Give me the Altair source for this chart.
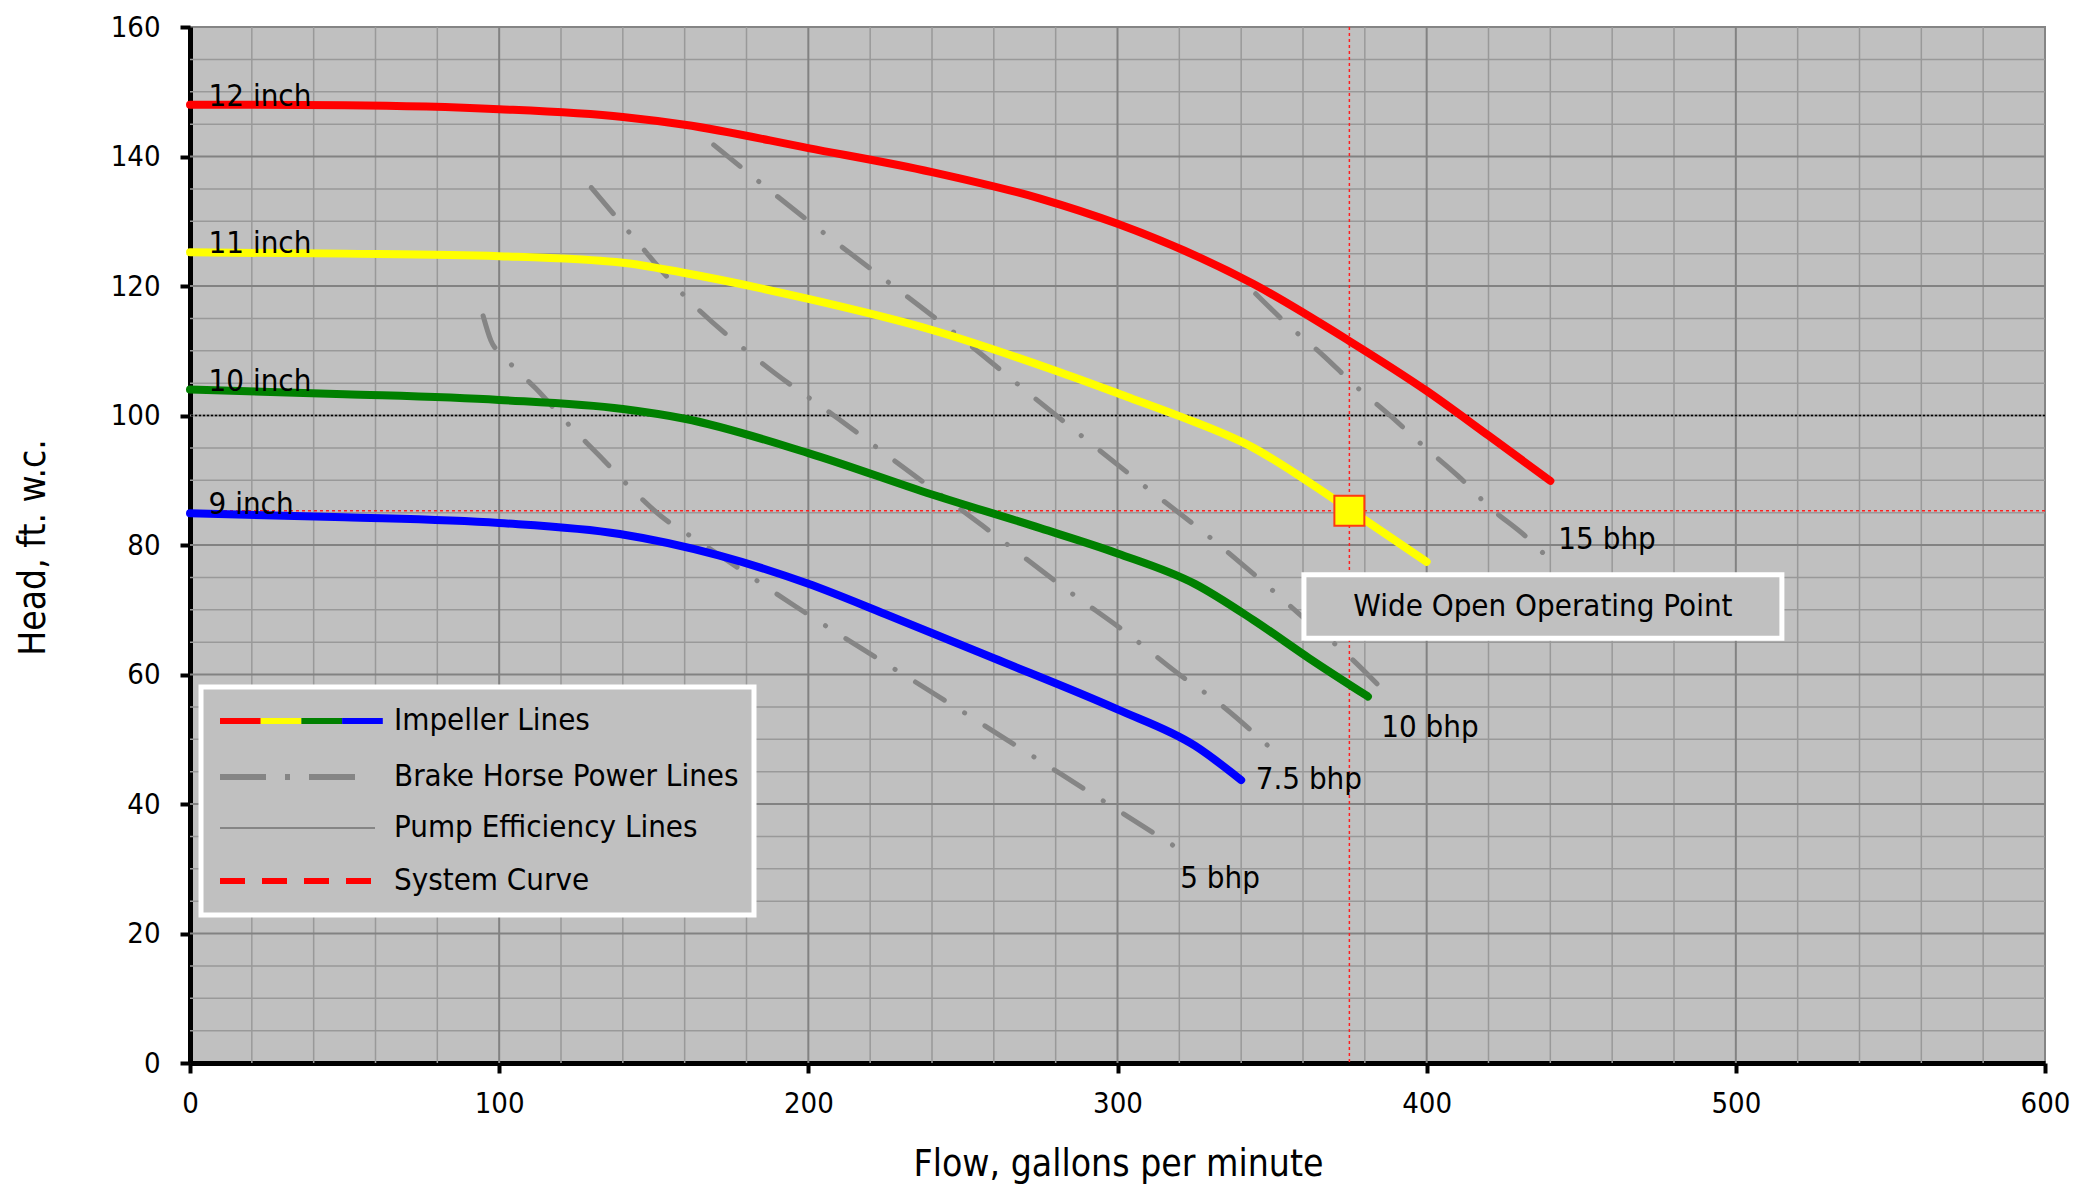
import altair as alt
import pandas as pd

# ---------------- data ----------------
imp_names = ["12 inch", "11 inch", "10 inch", "9 inch"]
imp_colors = ["#ff0000", "#ffff00", "#008000", "#0000ff"]

gpm_12 = [0, 50, 100, 140, 160, 200, 240, 275, 300, 344, 375, 400, 420, 440]
ft_12 = [148.0, 147.9, 147.3, 146.1, 144.9, 141.3, 137.6, 133.5, 129.6, 120.3, 111.5, 103.8, 96.9, 89.9]
gpm_11 = [0, 50, 100, 140, 160, 200, 240, 280, 303, 320, 344, 360, 375, 400]
ft_11 = [125.2, 125.0, 124.6, 123.6, 122.0, 118.0, 113.2, 106.9, 102.9, 99.9, 95.0, 90.3, 85.5, 77.4]
gpm_10 = [0, 50, 100, 140, 160, 200, 240, 275, 300, 325, 344, 362, 381]
ft_10 = [104.0, 103.3, 102.4, 101.0, 99.5, 94.2, 87.8, 82.6, 78.7, 74.0, 68.4, 62.5, 56.6]
gpm_9 = [0, 50, 100, 139, 171, 200, 225, 260, 300, 325, 340]
ft_9 = [84.9, 84.3, 83.4, 81.7, 78.4, 74.0, 69.3, 62.5, 54.6, 49.0, 43.7]

imp_label_gpm = [6, 6, 6, 6]
imp_label_ft = [148.0, 125.2, 104.0, 85.0]

bhp_names = ["5 bhp", "7.5 bhp", "10 bhp", "15 bhp"]
gpm_b5 = [94.8, 97.3, 101.1, 106.6, 111.8, 121.9, 132.2, 141.9, 152.5, 165.1, 195.3, 244.8, 294.3, 318.7]
ft_b5 = [115.4, 111.6, 109.3, 106.6, 104.2, 98.9, 93.9, 89.1, 84.4, 80.4, 70.7, 55.8, 40.8, 33.4]
gpm_b75 = [129.8, 143.8, 158.3, 185.5, 209.7, 233.0, 256.3, 285.3, 303.0, 320.3, 332.2, 348.9]
ft_b75 = [135.2, 127.3, 119.3, 107.9, 99.5, 91.2, 83.0, 72.5, 66.4, 59.9, 55.8, 48.9]
gpm_b10 = [169.4, 186.4, 203.9, 227.2, 250.4, 272.7, 308.2, 330.1, 346.8, 360.3, 374.9, 384.9]
ft_b10 = [141.8, 135.2, 128.6, 120.1, 111.6, 102.9, 89.3, 81.1, 74.4, 68.7, 62.8, 58.1]
gpm_b15 = [344.7, 355.1, 366.5, 376.9, 388.4, 398.9, 410.3, 420.7, 432.1, 440.5]
ft_b15 = [118.8, 114.0, 109.3, 104.6, 99.9, 95.3, 90.6, 85.7, 81.3, 77.4]

bhp_label_gpm = [320.3, 344.7, 385.3, 442.6]
bhp_label_ft = [28.4, 43.7, 51.8, 80.8]

op_gpm = [375.0]
op_ft = [85.3]
ref_head = [100.0]

box_gpm = [360.3, 514.9]
box_ft = [65.6, 75.4]
box_text = "Wide Open Operating Point"

x_ticks = [0, 100, 200, 300, 400, 500, 600]
y_ticks = [0, 20, 40, 60, 80, 100, 120, 140, 160]
x_minor = [v for v in range(20, 600, 20) if v % 100]
x_major = [100, 200, 300, 400, 500]
y_minor = [v for v in range(5, 160, 5) if v % 20]
y_major = [20, 40, 60, 80, 100, 120, 140]

legend_labels = ["Impeller Lines", "Brake Horse Power Lines", "Pump Efficiency Lines", "System Curve"]

# ---------------- styling ----------------
FONT = "DejaVu Sans Condensed, Liberation Sans, sans-serif"
W, H = 1855, 1036
GRAY = "#858585"

XS = alt.Scale(domain=[0, 600], nice=False, zero=False)
YS = alt.Scale(domain=[0, 160], nice=False, zero=False)

AXX = alt.Axis(values=x_ticks, title="Flow, gallons per minute", grid=False,
               domainColor="black", domainWidth=5, tickColor="black", tickWidth=4,
               tickSize=10, labelFontSize=29, labelPadding=16, labelFont=FONT,
               labelColor="black", titleFont=FONT, titleFontSize=37,
               titleFontWeight="normal", titleColor="black", titleX=928, titleY=101,
               titleBaseline="middle", labelFlush=False)
AXY = alt.Axis(values=y_ticks, title="Head, ft. w.c.", grid=False,
               domainColor="black", domainWidth=5, tickColor="black", tickWidth=4,
               tickSize=10, labelFontSize=29, labelPadding=20, labelFont=FONT,
               labelColor="black", titleFont=FONT, titleFontSize=37,
               titleFontWeight="normal", titleColor="black", titleX=-157, titleY=520,
               titleBaseline="middle", labelFlush=False)


def X(field):
    return alt.X(field, type="quantitative", scale=XS, axis=AXX)


def Y(field):
    return alt.Y(field, type="quantitative", scale=YS, axis=AXY)


def curves(names, gpms, fts):
    rows = []
    for n, g, f in zip(names, gpms, fts):
        for i, (a, b) in enumerate(zip(g, f)):
            rows.append({"series": n, "gpm": a, "ft": b, "i": i})
    return pd.DataFrame(rows)


imp_df = curves(imp_names, [gpm_12, gpm_11, gpm_10, gpm_9], [ft_12, ft_11, ft_10, ft_9])
bhp_df = curves(bhp_names, [gpm_b5, gpm_b75, gpm_b10, gpm_b15], [ft_b5, ft_b75, ft_b10, ft_b15])

one = pd.DataFrame({"k": [0]})

layers = []

# grid
layers.append(alt.Chart(pd.DataFrame({"v": x_minor})).mark_rule(color="#999999", strokeWidth=1.5).encode(x=X("v")))
layers.append(alt.Chart(pd.DataFrame({"v": y_minor})).mark_rule(color="#999999", strokeWidth=1.5).encode(y=Y("v")))
layers.append(alt.Chart(pd.DataFrame({"v": x_major})).mark_rule(color="#828282", strokeWidth=2).encode(x=X("v")))
layers.append(alt.Chart(pd.DataFrame({"v": y_major})).mark_rule(color="#828282", strokeWidth=2).encode(y=Y("v")))

# reference dotted line at 100 ft
layers.append(alt.Chart(pd.DataFrame({"v": ref_head})).mark_rule(color="black", strokeWidth=1.5, strokeDash=[2, 2]).encode(y=Y("v")))
# system crosshair
layers.append(alt.Chart(pd.DataFrame({"v": op_gpm})).mark_rule(color="#ff2020", strokeWidth=1.5, strokeDash=[3, 3]).encode(x=X("v")))
layers.append(alt.Chart(pd.DataFrame({"v": op_ft})).mark_rule(color="#ff2020", strokeWidth=1.5, strokeDash=[3, 3]).encode(y=Y("v")))

# brake horse power lines
layers.append(
    alt.Chart(bhp_df).mark_line(color=GRAY, strokeWidth=5, strokeDash=[34, 24, 0.1, 24],
                                strokeCap="round", interpolate="monotone")
    .encode(x=X("gpm"), y=Y("ft"), detail="series:N", order="i:Q")
)

# impeller lines
layers.append(
    alt.Chart(imp_df).mark_line(strokeWidth=8, strokeCap="round", interpolate="monotone")
    .encode(x=X("gpm"), y=Y("ft"), order="i:Q",
            color=alt.Color("series:N", scale=alt.Scale(domain=imp_names, range=imp_colors), legend=None))
)

# impeller labels
layers.append(
    alt.Chart(pd.DataFrame({"gpm": imp_label_gpm, "ft": imp_label_ft, "t": imp_names}))
    .mark_text(align="left", baseline="alphabetic", font=FONT, fontSize=31, color="black", dy=1)
    .encode(x=X("gpm"), y=Y("ft"), text="t:N")
)

# bhp labels
layers.append(
    alt.Chart(pd.DataFrame({"gpm": bhp_label_gpm, "ft": bhp_label_ft, "t": bhp_names}))
    .mark_text(align="left", baseline="middle", font=FONT, fontSize=31, color="black")
    .encode(x=X("gpm"), y=Y("ft"), text="t:N")
)

# operating point
layers.append(
    alt.Chart(pd.DataFrame({"gpm": op_gpm, "ft": op_ft}))
    .mark_square(size=900, fill="#ffff00", stroke="#ff3a10", strokeWidth=2, opacity=1)
    .encode(x=X("gpm"), y=Y("ft"))
)

# annotation box
layers.append(
    alt.Chart(pd.DataFrame({"x0": [box_gpm[0]], "x1": [box_gpm[1]], "y0": [box_ft[0]], "y1": [box_ft[1]]}))
    .mark_rect(fill="#c0c0c0", stroke="white", strokeWidth=5)
    .encode(x=X("x0"), x2="x1", y=Y("y0"), y2="y1")
)
layers.append(
    alt.Chart(pd.DataFrame({"gpm": [sum(box_gpm) / 2], "ft": [sum(box_ft) / 2], "t": [box_text]}))
    .mark_text(align="center", baseline="middle", font=FONT, fontSize=31, color="black")
    .encode(x=X("gpm"), y=Y("ft"), text="t:N")
)

# ---------------- legend (drawn manually) ----------------
layers.append(
    alt.Chart(one).mark_rect(fill="#c0c0c0", stroke="white", strokeWidth=5)
    .encode(x=alt.value(11), x2=alt.value(564), y=alt.value(660), y2=alt.value(888))
)
row_y = [694, 750, 801, 854]
sym_x0, seg = 30, 40.7
for k, c in enumerate(imp_colors):
    layers.append(
        alt.Chart(one).mark_rule(color=c, strokeWidth=6)
        .encode(x=alt.value(sym_x0 + k * seg), x2=alt.value(sym_x0 + (k + 1) * seg), y=alt.value(row_y[0]))
    )
layers.append(
    alt.Chart(one).mark_rule(color=GRAY, strokeWidth=6, strokeDash=[46, 19, 5, 19])
    .encode(x=alt.value(sym_x0), x2=alt.value(170), y=alt.value(row_y[1]))
)
layers.append(
    alt.Chart(one).mark_rule(color=GRAY, strokeWidth=2)
    .encode(x=alt.value(sym_x0), x2=alt.value(185), y=alt.value(row_y[2]))
)
layers.append(
    alt.Chart(one).mark_rule(color="#ff0000", strokeWidth=6, strokeDash=[25, 17])
    .encode(x=alt.value(sym_x0), x2=alt.value(182), y=alt.value(row_y[3]))
)
for lbl, yy in zip(legend_labels, row_y):
    layers.append(
        alt.Chart(one).mark_text(align="left", baseline="middle", font=FONT, fontSize=31, color="black")
        .encode(x=alt.value(204), y=alt.value(yy), text=alt.value(lbl))
    )

chart = alt.layer(*layers).properties(
    width=W, height=H,
    autosize=alt.AutoSizeParams(type="none"),
    padding={"left": 182, "top": 19, "right": 31, "bottom": 122},
    background="white",
).configure_view(fill="#c0c0c0", stroke=GRAY, strokeWidth=2)

chart.save("out.html", embed_options={"renderer": "svg", "actions": False})
